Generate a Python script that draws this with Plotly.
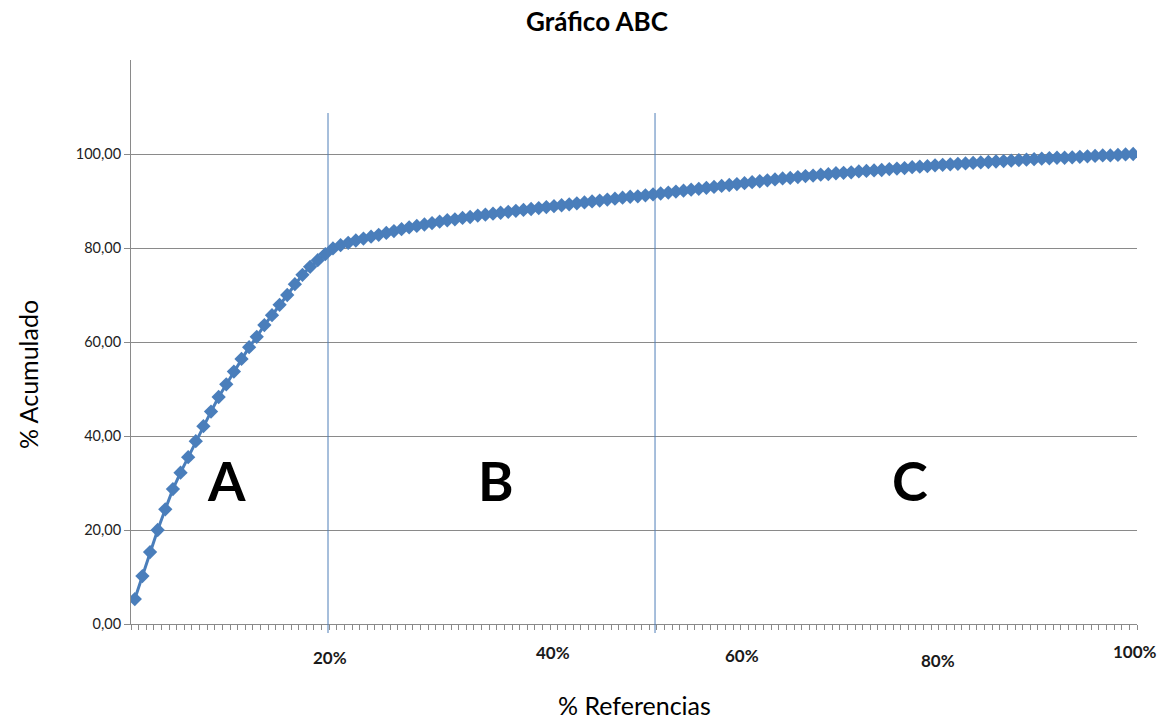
import plotly.graph_objects as go

# cumulative % per reference (132 references)
acumulado = [
    5.3, 10.2, 15.3, 20.0, 24.4, 28.7, 32.2, 35.5, 38.9, 42.1,
    45.2, 48.3, 51.0, 53.7, 56.4, 58.9, 61.1, 63.6, 65.7, 67.9,
    70.0, 72.3, 74.3, 76.0, 77.4, 78.7, 79.9, 80.6, 81.1, 81.6,
    82.0, 82.4, 82.8, 83.2, 83.6, 84.0, 84.4, 84.7, 85.0, 85.3,
    85.6, 85.9, 86.1, 86.4, 86.6, 86.9, 87.1, 87.3, 87.5, 87.7,
    87.9, 88.1, 88.3, 88.5, 88.7, 88.9, 89.1, 89.3, 89.5, 89.7,
    89.9, 90.1, 90.3, 90.5, 90.7, 90.9, 91.0, 91.2, 91.4, 91.6,
    91.8, 92.0, 92.2, 92.4, 92.6, 92.8, 93.0, 93.2, 93.4, 93.6,
    93.8, 94.0, 94.2, 94.4, 94.6, 94.8, 94.9, 95.1, 95.3, 95.4,
    95.6, 95.7, 95.9, 96.0, 96.1, 96.3, 96.4, 96.5, 96.6, 96.8,
    96.9, 97.0, 97.2, 97.3, 97.4, 97.6, 97.7, 97.8, 97.9, 98.0,
    98.1, 98.2, 98.3, 98.4, 98.5, 98.6, 98.7, 98.8, 98.9, 99.0,
    99.1, 99.2, 99.2, 99.3, 99.4, 99.5, 99.6, 99.7, 99.7, 99.8,
    99.9, 100.0,
]
referencias = list(range(1, len(acumulado) + 1))

# x-axis labels (category positions) and their vertical offsets (paper units)
x_labels = ["20%", "40%", "60%", "80%", "100%"]
x_label_pos = [26.6, 55.9, 80.7, 106.4, 132.2]
x_label_y = [-0.059, -0.050, -0.055, -0.064, -0.048]

y_ticks = [0, 20, 40, 60, 80, 100]
y_ticktext = ["0,00", "20,00", "40,00", "60,00", "80,00", "100,00"]

# zone limits and zone letters
zone_limits = [26.35, 69.26]
zone_names = ["A", "B", "C"]
zone_x = [12.97, 48.4, 102.7]
zone_y = 30.6

FONT = "Lato"
BLUE = "#4a7ebb"
GRID = "#8a8a8a"

W, H = 1173, 720
L, T = 131, 60
PW, PH = 1006, 564


def px_to_paper(px, py):
    return (px - L) / PW, (T + PH - py) / PH


fig = go.Figure()
fig.add_trace(go.Scatter(
    x=referencias, y=acumulado, mode="lines+markers",
    line=dict(color=BLUE, width=3),
    marker=dict(symbol="diamond", size=11, color=BLUE),
    showlegend=False, hoverinfo="skip",
))

for xl in zone_limits:
    fig.add_shape(type="line", xref="x", yref="paper",
                  x0=xl, x1=xl, y0=-0.016, y1=0.906,
                  line=dict(color="#4f7fb8", width=1))

annotations = []
for t, xp, yp in zip(x_labels, x_label_pos, x_label_y):
    annotations.append(dict(x=xp, y=yp, xref="x", yref="paper", text=f"<b>{t}</b>",
                            showarrow=False, font=dict(family=FONT, size=17, color="#1a1a1a"),
                            xanchor="center", yanchor="middle"))
for t, xp in zip(zone_names, zone_x):
    annotations.append(dict(x=xp, y=zone_y, xref="x", yref="y", text=f"<b>{t}</b>",
                            showarrow=False, font=dict(family=FONT, size=54, color="black"),
                            xanchor="center", yanchor="middle"))
ax, ay = px_to_paper(634, 705)
annotations.append(dict(x=ax, y=ay, xref="paper", yref="paper",
                        text="% Referencias", showarrow=False,
                        font=dict(family=FONT, size=25, color="black"),
                        xanchor="center", yanchor="middle"))
bx, by = px_to_paper(28, 375)
annotations.append(dict(x=bx, y=by, xref="paper", yref="paper",
                        text="% Acumulado", showarrow=False, textangle=-90,
                        font=dict(family=FONT, size=25, color="black"),
                        xanchor="center", yanchor="middle"))

fig.update_layout(
    width=W, height=H,
    margin=dict(l=L, r=W - L - PW, t=T, b=H - T - PH),
    paper_bgcolor="white", plot_bgcolor="white",
    title=dict(text="<b>Gráfico ABC</b>", x=597 / W, xanchor="center",
               y=1 - 22 / H, yanchor="middle",
               font=dict(family=FONT, size=26, color="black")),
    annotations=annotations,
    xaxis=dict(range=[0.5, len(acumulado) + 0.5], showgrid=False, zeroline=False,
               showline=True, linecolor=GRID, linewidth=1,
               ticks="outside", ticklen=5, tickcolor=GRID,
               tick0=0.5, dtick=1, showticklabels=False),
    yaxis=dict(range=[0, 120], tickvals=y_ticks, ticktext=y_ticktext,
               showgrid=True, gridcolor=GRID, gridwidth=1, zeroline=False,
               showline=True, linecolor=GRID, linewidth=1,
               ticks="outside", ticklen=6, tickcolor=GRID,
               tickfont=dict(family=FONT, size=14.5, color="#222222")),
    font=dict(family=FONT),
)

fig.write_html("out.html", config={"displayModeBar": False},
               post_script="document.body.style.margin='0';")
